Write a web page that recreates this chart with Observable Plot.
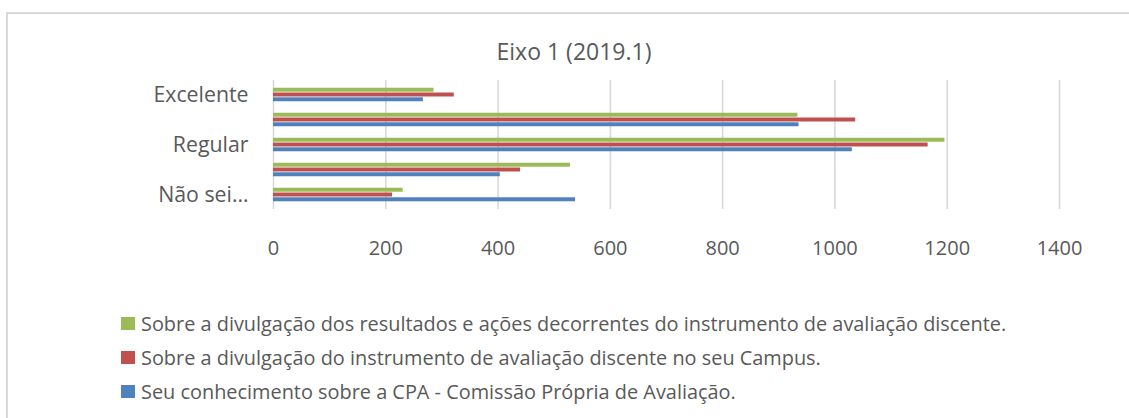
<!DOCTYPE html>
<html>
<head>
<meta charset="utf-8">
<script src="https://cdn.jsdelivr.net/npm/d3@7"></script>
<script src="https://cdn.jsdelivr.net/npm/@observablehq/plot@0.6"></script>
<style>
  html, body { margin: 0; padding: 0; background: #fff; overflow: hidden; }
  body { width: 1129px; height: 418px; position: relative; font-family: "Open Sans", sans-serif; color: #595959; }
  #frame { position: absolute; left: 6px; top: 12px; width: 1300px; height: 600px; border: 2px solid #d9d9d9; box-sizing: border-box; }
  #title { position: absolute; left: 0; width: 1148px; top: 35px; text-align: center; font-size: 23px; line-height: 32px; }
  #chart { position: absolute; left: 0; top: 0; }
  #legend { position: absolute; left: 121px; top: 306px; font-size: 19.9px; }
  .row { height: 34px; display: flex; align-items: center; white-space: nowrap; }
  .sw { width: 14px; height: 13px; margin-right: 6px; flex: none; }
</style>
</head>
<body>
<div id="frame"></div>
<div id="title">Eixo 1 (2019.1)</div>
<div id="chart"></div>
<div id="legend"></div>
<script>
// ---- data ----
const categories = ["Excelente", "Bom", "Regular", "Ruim", "Não sei responder"];
const categoryTickLabels = ["Excelente", "", "Regular", "", "Não sei…"];
const seriesNames = [
  "Sobre a divulgação dos resultados e ações decorrentes do instrumento de avaliação discente.",
  "Sobre a divulgação do instrumento de avaliação discente no seu Campus.",
  "Seu conhecimento sobre a CPA - Comissão Própria de Avaliação."
];
const seriesColors = ["#9BBB59", "#C0504D", "#4F81BD"];
const valuesResultados = [286, 934, 1196, 529, 231];
const valuesInstrumento = [322, 1037, 1166, 440, 212];
const valuesCPA = [267, 936, 1031, 404, 538];
const xTicks = [0, 200, 400, 600, 800, 1000, 1200, 1400];

const seriesValues = [valuesResultados, valuesInstrumento, valuesCPA];
const table = [];
seriesNames.forEach((s, i) => categories.forEach((c, j) => table.push({category: c, series: s, value: seriesValues[i][j]})));

// ---- layout ----
const W = 1129, H = 270, mt = 80, mb = 61, ml = 273, mr = 70;
const bw = (H - mt - mb) / categories.length;
const barH = bw * 0.185;
const groupTop = (bw - 3 * barH) / 2;

const barMarks = seriesNames.map((s, i) => {
  const top = groupTop + i * barH;
  return Plot.barX(table.filter(d => d.series === s), {
    x: "value", y: "category", fill: seriesColors[i],
    insetTop: top, insetBottom: bw - top - barH
  });
});

const yLabel = d => categoryTickLabels[categories.indexOf(d)];

const chart = Plot.plot({
  width: W, height: H,
  marginTop: mt, marginBottom: mb, marginLeft: ml, marginRight: mr,
  style: {fontFamily: "Open Sans, sans-serif", color: "#595959", background: "transparent"},
  x: {domain: [0, 1400], label: null},
  y: {domain: categories, padding: 0, label: null},
  marks: [
    Plot.ruleX(xTicks, {stroke: "#d9d9d9", strokeWidth: 1.6}),
    ...barMarks,
    Plot.axisX({ticks: xTicks, tickSize: 0, tickPadding: 31, fontSize: 20, fill: "#595959", label: null,
      tickFormat: d => String(d)}),
    Plot.axisY({tickSize: 0, tickPadding: 25, fontSize: 21.3, fill: "#595959", label: null,
      tickFormat: yLabel})
  ]
});
document.getElementById("chart").appendChild(chart);

// ---- legend ----
const legend = document.getElementById("legend");
seriesNames.forEach((s, i) => {
  const row = document.createElement("div");
  row.className = "row";
  const sw = document.createElement("span");
  sw.className = "sw";
  sw.style.background = seriesColors[i];
  const t = document.createElement("span");
  t.textContent = s;
  row.appendChild(sw); row.appendChild(t);
  legend.appendChild(row);
});
</script>
</body>
</html>
